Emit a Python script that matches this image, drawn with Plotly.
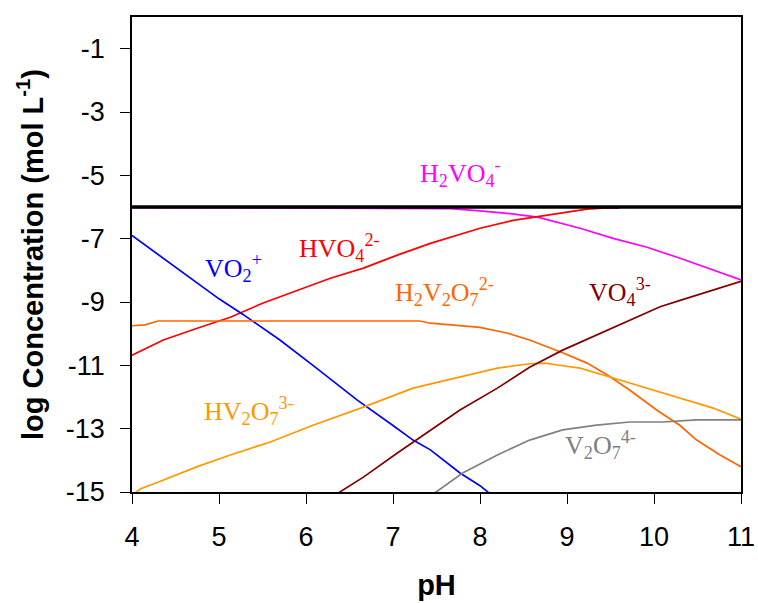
import plotly.graph_objects as go

# ---------------- data ----------------
ph_vo2 = [4.0, 4.36, 4.75, 5.0, 5.28, 5.70, 6.08, 6.59, 7.0, 7.23, 7.43, 7.77, 8.0, 8.18]
log_vo2 = [-6.9, -7.62, -8.41, -8.9, -9.4, -10.2, -11.0, -12.1, -12.9, -13.36, -13.67, -14.4, -14.8, -15.2]

ph_hvo4 = [4.0, 4.36, 4.75, 5.13, 5.5, 5.9, 6.28, 6.66, 7.05, 7.43, 7.62, 8.0, 8.38, 8.66, 8.95, 9.23, 9.4, 9.6]
log_hvo4 = [-10.68, -10.2, -9.83, -9.48, -9.04, -8.63, -8.25, -7.93, -7.52, -7.15, -6.99, -6.67, -6.42, -6.3, -6.17, -6.07, -6.04, -6.04]

ph_h2vo4 = [4.0, 7.66, 8.0, 8.31, 8.66, 9.15, 9.53, 9.92, 10.3, 10.68, 11.0]
log_h2vo4 = [-6.02, -6.05, -6.12, -6.2, -6.32, -6.67, -6.99, -7.27, -7.62, -8.0, -8.3]

ph_h2v2o7 = [4.0, 4.15, 4.3, 7.31, 7.43, 8.0, 8.31, 8.57, 8.95, 9.23, 9.46, 9.72, 10.03, 10.3, 10.49, 10.76, 11.0]
log_h2v2o7 = [-9.75, -9.72, -9.6, -9.6, -9.67, -9.8, -9.98, -10.2, -10.6, -10.93, -11.3, -11.78, -12.41, -12.9, -13.36, -13.83, -14.2]

ph_hv2o7 = [4.0, 4.1, 4.29, 4.75, 5.13, 5.59, 6.08, 6.66, 7.23, 7.77, 8.2, 8.57, 8.75, 8.89, 9.15, 9.53, 9.92, 10.3, 10.68, 11.0]
log_hv2o7 = [-15.1, -14.9, -14.7, -14.2, -13.83, -13.42, -12.89, -12.32, -11.72, -11.37, -11.09, -10.95, -10.93, -10.99, -11.09, -11.4, -11.72, -12.03, -12.35, -12.7]

ph_vo4 = [6.36, 6.66, 7.05, 7.43, 7.77, 8.2, 8.57, 8.95, 9.53, 9.92, 10.07, 10.3, 10.68, 11.0]
log_vo4 = [-15.05, -14.53, -13.77, -13.04, -12.41, -11.72, -11.06, -10.52, -9.8, -9.32, -9.15, -8.95, -8.63, -8.35]

ph_v2o7 = [7.47, 7.80, 8.2, 8.57, 8.95, 9.34, 9.72, 10.1, 10.49, 11.0]
log_v2o7 = [-15.05, -14.4, -13.83, -13.36, -13.04, -12.89, -12.79, -12.79, -12.72, -12.72]

ph_total = [4.0, 11.0]
log_total = [-6.0, -6.0]

x_ticks = [4, 5, 6, 7, 8, 9, 10, 11]
y_ticks = [-1, -3, -5, -7, -9, -11, -13, -15]

# species labels: (text, pH, log, colour)
labels = [
    ("VO<sub>2</sub><sup>+</sup>", 4.82, -7.93, "#0000FF"),
    ("HVO<sub>4</sub><sup>2-</sup>", 5.90, -7.30, "#FF0000"),
    ("H<sub>2</sub>VO<sub>4</sub><sup>-</sup>", 7.29, -4.94, "#FF00FF"),
    ("H<sub>2</sub>V<sub>2</sub>O<sub>7</sub><sup>2-</sup>", 7.00, -8.69, "#FF6600"),
    ("VO<sub>4</sub><sup>3-</sup>", 9.23, -8.69, "#800000"),
    ("HV<sub>2</sub>O<sub>7</sub><sup>3-</sup>", 4.80, -12.44, "#FF9900"),
    ("V<sub>2</sub>O<sub>7</sub><sup>4-</sup>", 8.95, -13.52, "#808080"),
]

# ---------------- figure ----------------
fig = go.Figure()
series = [
    (ph_h2vo4, log_h2vo4, "#FF00FF"),
    (ph_hvo4, log_hvo4, "#FF0000"),
    (ph_vo2, log_vo2, "#0000FF"),
    (ph_h2v2o7, log_h2v2o7, "#FF6600"),
    (ph_hv2o7, log_hv2o7, "#FF9900"),
    (ph_vo4, log_vo4, "#800000"),
    (ph_v2o7, log_v2o7, "#808080"),
]
for xs, ys, c in series:
    fig.add_trace(go.Scatter(x=xs, y=ys, mode="lines", line=dict(color=c, width=1.7),
                             showlegend=False, hoverinfo="skip"))
fig.add_trace(go.Scatter(x=ph_total, y=log_total, mode="lines",
                         line=dict(color="black", width=3.5), showlegend=False, hoverinfo="skip"))

for text, x, y, c in labels:
    fig.add_annotation(x=x, y=y, text=text, showarrow=False, xanchor="left", yanchor="middle",
                       font=dict(family="Liberation Serif, Times New Roman, serif", size=26, color=c))

tick_font = dict(family="Liberation Sans, Arial, sans-serif", size=27, color="black")
title_font = dict(family="Liberation Sans, Arial, sans-serif", size=29, color="black")
fig.update_xaxes(range=[4, 11], tickvals=x_ticks, ticktext=[str(v) for v in x_ticks],
                 ticks="outside", ticklen=10, tickwidth=1.2, tickcolor="black",
                 showline=True, linecolor="black", linewidth=1.5, mirror=True,
                 showgrid=False, zeroline=False, tickfont=tick_font, ticklabelstandoff=10,
                 automargin=False,
                 title=dict(text="<b>pH</b>", font=title_font, standoff=24))
fig.update_yaxes(range=[-15, 0], tickvals=y_ticks, ticktext=[str(v) for v in y_ticks],
                 ticks="outside", ticklen=10, tickwidth=1.2, tickcolor="black",
                 showline=True, linecolor="black", linewidth=1.5, mirror=True,
                 showgrid=False, zeroline=False, tickfont=tick_font, ticklabelstandoff=10,
                 automargin=False,
                 title=dict(text="<b>log Concentration (mol L<sup>-1</sup>)</b>", font=title_font, standoff=14))

fig.update_layout(width=758, height=603, plot_bgcolor="white", paper_bgcolor="white",
                  margin=dict(l=132, r=17, t=17, b=111))

fig.write_html("out.html")
